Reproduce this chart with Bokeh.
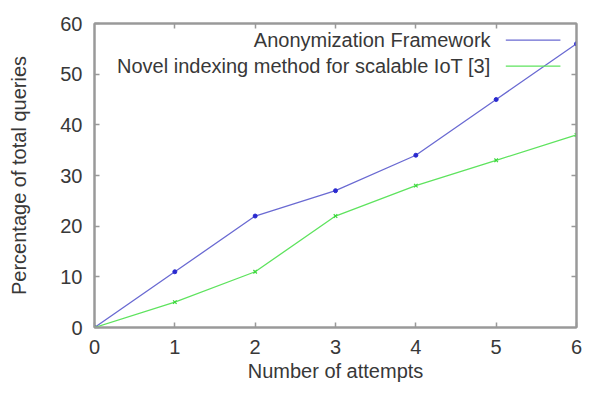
from bokeh.plotting import figure
from bokeh.models import LinearAxis, FixedTicker, Label, Arrow, Range1d, CustomJSTickFormatter
from bokeh.embed import file_html
from bokeh.resources import INLINE

attempts = [0, 1, 2, 3, 4, 5, 6]
anonymization = [0, 11, 22, 27, 34, 45, 56]
novel_indexing = [0, 5, 11, 22, 28, 33, 38]
series_names = ["Anonymization Framework", "Novel indexing method for scalable IoT [3]"]
x_ticks = [0, 1, 2, 3, 4, 5, 6]
y_ticks = [0, 10, 20, 30, 40, 50, 60]

FONT = "Liberation Sans"
TXT = "#383838"
FRAME = "#999999"
BLUE_LINE = "#6a6ad2"
BLUE_PT = "#2a2ad0"
GREEN_LINE = "#5ee35e"
GREEN_PT = "#3cd83c"

p = figure(width=582, height=387, output_backend="svg", toolbar_location=None,
           x_range=Range1d(0, 6), y_range=Range1d(0, 60),
           min_border_left=94, min_border_right=6, min_border_top=23, min_border_bottom=60)
p.xgrid.visible = False
p.ygrid.visible = False
p.outline_line_color = FRAME
p.outline_line_width = 2
p.background_fill_color = "white"
p.border_fill_color = "white"

def style(ax, ticks, labels=True):
    ax.ticker = FixedTicker(ticks=ticks)
    ax.axis_line_color = FRAME
    ax.axis_line_width = 2
    ax.major_tick_in = 5
    ax.major_tick_out = 0
    ax.minor_tick_line_color = None
    ax.major_tick_line_color = FRAME
    ax.major_tick_line_width = 1.5
    ax.major_label_text_font = FONT
    ax.major_label_text_color = TXT
    ax.major_label_text_font_size = "20px"
    ax.axis_label_text_font = FONT
    ax.axis_label_text_color = TXT
    ax.axis_label_text_font_size = "20px"
    ax.axis_label_text_font_style = "normal"
    if not labels:
        ax.formatter = CustomJSTickFormatter(code="return ''")
        ax.major_label_standoff = 0
        ax.major_label_text_font_size = "0px"

style(p.xaxis[0], x_ticks)
style(p.yaxis[0], y_ticks)
p.xaxis.axis_label = "Number of attempts"
p.yaxis.axis_label = "Percentage of total queries"
p.xaxis.major_label_standoff = 12
p.xaxis.axis_label_standoff = 3
p.yaxis.major_label_standoff = 12
p.yaxis.axis_label_standoff = 27

top = LinearAxis()
style(top, x_ticks[1:-1], labels=False)
p.add_layout(top, "above")
right = LinearAxis()
style(right, y_ticks[1:-1], labels=False)
p.add_layout(right, "right")

p.line(attempts, anonymization, line_color=BLUE_LINE, line_width=1.3)
p.scatter(attempts, anonymization, marker="circle", size=4, fill_color=BLUE_PT, line_color=BLUE_PT)
p.line(attempts, novel_indexing, line_color=GREEN_LINE, line_width=1.3)
p.scatter(attempts, novel_indexing, marker="x", size=5, line_color=GREEN_PT, line_width=1.2)

# legend (text right-aligned, sample on right, as in the source)
rows = [(56.7, BLUE_LINE), (51.6, GREEN_LINE)]
for name, (yy, col) in zip(series_names, rows):
    p.add_layout(Label(x=4.93, y=yy, text=name, text_align="right", text_baseline="middle",
                       text_font=FONT, text_font_size="20px", text_color=TXT))
    p.add_layout(Arrow(x_start=5.12, y_start=yy, x_end=5.8, y_end=yy, end=None,
                       line_color=col, line_width=1.3))

open("out.html", "w").write(file_html(p, INLINE))
